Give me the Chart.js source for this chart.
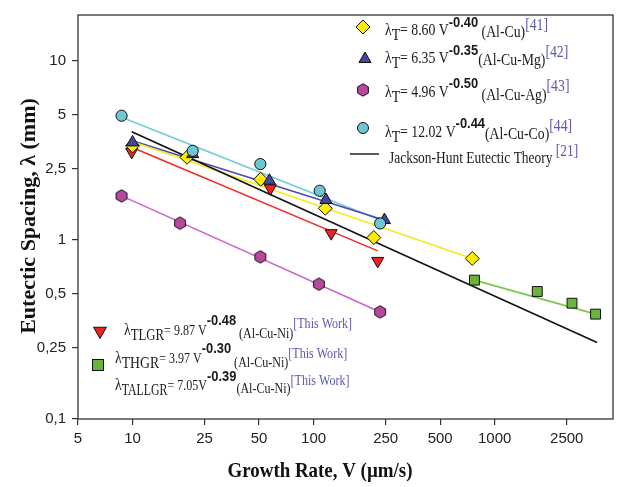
<!DOCTYPE html>
<html><head><meta charset="utf-8">
<script src="https://cdn.jsdelivr.net/npm/chart.js@4/dist/chart.umd.min.js"></script>
<style>html,body{margin:0;padding:0;background:#fff}</style>
</head><body>
<canvas id="c" width="630" height="487" style="width:630px;height:487px;display:block"></canvas>
<script>
// ---- axis ticks ----
const xTicks = [5, 10, 25, 50, 100, 250, 500, 1000, 2500];
const yTicks = [0.1, 0.25, 0.5, 1, 2.5, 5, 10];
const yTickLabels = ['0,1', '0,25', '0,5', '1', '2,5', '5', '10'];

// ---- measured points (V in µm/s, lambda in mm) ----
const alCuV   = [10, 20, 51, 116, 215, 752];
const alCuL   = [3.35, 2.89, 2.18, 1.50, 1.03, 0.787];
const alCuMgV = [10, 21.5, 57, 117, 246];
const alCuMgL = [3.50, 3.01, 2.14, 1.67, 1.29];
const alCuAgV = [8.7, 18.3, 50.8, 107, 233];
const alCuAgL = [1.76, 1.24, 0.804, 0.566, 0.396];
const alCuCoV = [8.7, 21.5, 50.8, 108, 233];
const alCuCoL = [4.93, 3.14, 2.65, 1.88, 1.235];
const tlgrV   = [9.9, 57.7, 125, 226];
const tlgrL   = [3.10, 1.94, 1.09, 0.763];
const thgrV   = [773, 1718, 2672, 3606];
const thgrL   = [0.596, 0.515, 0.443, 0.385];

// ---- fit lines (end points) ----
const alCuFitV   = [10, 752];   const alCuFitL   = [3.53, 0.787];
const alCuMgFitV = [10, 240];   const alCuMgFitL = [3.57, 1.30];
const alCuAgFitV = [8.7, 233];  const alCuAgFitL = [1.76, 0.396];
const alCuCoFitV = [8.7, 233];  const alCuCoFitL = [4.83, 1.29];
const tlgrFitV   = [9.9, 226];  const tlgrFitL   = [3.29, 0.868];
const thgrFitV   = [773, 3606]; const thgrFitL   = [0.596, 0.385];
const jhV        = [9.9, 3675]; const jhL        = [4.01, 0.267];

const C = {
  yellow: '#FFEE00', yellowLine: '#F7EA1C',
  blue: '#4646A0', blueLine: '#4B4BAA',
  magenta: '#B8489E', magentaLine: '#CC66CC',
  cyan: '#6DC6D0', cyanLine: '#74CADA',
  red: '#EE2222', redLine: '#F42A2A',
  green: '#6AB43E', greenLine: '#7CC84A',
  ref: '#5A5AAE'
};

function pts(xs, ys) { return xs.map((x, i) => ({x: x, y: ys[i]})); }

function makeHex(r, fill) {
  const s = Math.ceil(r * 2 + 3);
  const cv = document.createElement('canvas');
  cv.width = s; cv.height = s;
  const g = cv.getContext('2d');
  g.beginPath();
  for (let k = 0; k < 6; k++) {
    const a = -Math.PI / 2 + k * Math.PI / 3;
    const px = s / 2 + r * Math.cos(a), py = s / 2 + r * Math.sin(a);
    k ? g.lineTo(px, py) : g.moveTo(px, py);
  }
  g.closePath();
  g.fillStyle = fill; g.fill();
  g.strokeStyle = '#111'; g.lineWidth = 1; g.stroke();
  return cv;
}
const hexImg = makeHex(6.2, C.magenta);

function lineDS(xs, ys, color) {
  return {type: 'scatter', data: pts(xs, ys), showLine: true, borderColor: color, borderWidth: 1.6,
          pointRadius: 0, pointHoverRadius: 0, order: 20, fill: false};
}
function pointDS(xs, ys, style, fill, r, order, extra) {
  return Object.assign({type: 'scatter', data: pts(xs, ys), showLine: false, pointStyle: style,
          backgroundColor: fill, borderColor: '#111', borderWidth: 1, pointRadius: r, order: order}, extra || {});
}

const datasets = [
  lineDS(jhV, jhL, '#111'),
  lineDS(alCuFitV, alCuFitL, C.yellowLine),
  lineDS(alCuMgFitV, alCuMgFitL, C.blueLine),
  lineDS(alCuAgFitV, alCuAgFitL, C.magentaLine),
  lineDS(alCuCoFitV, alCuCoFitL, C.cyanLine),
  lineDS(tlgrFitV, tlgrFitL, C.redLine),
  lineDS(thgrFitV, thgrFitL, C.greenLine),
  pointDS(alCuCoV, alCuCoL, 'circle', C.cyan, 5.6, 1),
  pointDS(alCuMgV, alCuMgL, 'triangle', C.blue, 7, 2),
  pointDS(alCuV, alCuL, 'rectRot', C.yellow, 7, 3),
  pointDS(tlgrV, tlgrL, 'triangle', C.red, 7, 4, {rotation: 180}),
  pointDS(alCuAgV, alCuAgL, hexImg, C.magenta, 6, 5),
  pointDS(thgrV, thgrL, 'rect', C.green, 7, 6)
];

// draws a sequence of text pieces, horizontally compressed by sx
function runs(ctx, x, list, sx) {
  for (const r of list) {
    ctx.font = r.f;
    ctx.fillStyle = r.c || '#1a1a1a';
    const k = r.sx || sx || 1;
    x += (r.dx || 0);
    ctx.save();
    ctx.translate(x, r.y); ctx.scale(k, 1);
    ctx.fillText(r.t, 0, 0);
    ctx.restore();
    x += ctx.measureText(r.t).width * k;
  }
  return x;
}

function mDiamond(ctx, x, y, r, fill) { ctx.beginPath(); ctx.moveTo(x, y - r); ctx.lineTo(x + r, y); ctx.lineTo(x, y + r); ctx.lineTo(x - r, y); ctx.closePath(); ctx.fillStyle = fill; ctx.fill(); ctx.stroke(); }
function mTri(ctx, x, y, r, fill, down) { const s = down ? -1 : 1; ctx.beginPath(); ctx.moveTo(x, y - s * r); ctx.lineTo(x + r * 0.866, y + s * r * 0.5); ctx.lineTo(x - r * 0.866, y + s * r * 0.5); ctx.closePath(); ctx.fillStyle = fill; ctx.fill(); ctx.stroke(); }
function mCircle(ctx, x, y, r, fill) { ctx.beginPath(); ctx.arc(x, y, r, 0, Math.PI * 2); ctx.fillStyle = fill; ctx.fill(); ctx.stroke(); }
function mSquare(ctx, x, y, h, fill) { ctx.fillStyle = fill; ctx.fillRect(x - h, y - h, 2 * h, 2 * h); ctx.strokeRect(x - h, y - h, 2 * h, 2 * h); }

const SER = '16px "Liberation Serif"';
const SER14 = '14px "Liberation Serif"';
const SUP = 'bold 15px "Liberation Sans"';

const deco = {
  id: 'deco',
  afterDraw(chart) {
    const ctx = chart.ctx, a = chart.chartArea;
    ctx.save();
    ctx.strokeStyle = '#333'; ctx.lineWidth = 1.3;
    ctx.strokeRect(a.left, a.top, a.right - a.left, a.bottom - a.top);

    // axis titles
    ctx.fillStyle = '#111';
    ctx.font = 'bold 22px "Liberation Serif"';
    ctx.textAlign = 'center'; ctx.textBaseline = 'alphabetic';
    ctx.save();
    ctx.translate(320, 477); ctx.scale(0.86, 1);
    ctx.fillText('Growth Rate, V (\u00b5m/s)', 0, 0);
    ctx.restore();
    ctx.save();
    ctx.translate(35, 216); ctx.rotate(-Math.PI / 2);
    ctx.fillText('Eutectic Spacing, \u03bb (mm)', 0, 0);
    ctx.restore();
    ctx.textAlign = 'left';

    // legend markers
    ctx.strokeStyle = '#111'; ctx.lineWidth = 1;
    mDiamond(ctx, 363, 27, 7, C.yellow);
    mTri(ctx, 365, 59, 7, C.blue, false);
    ctx.drawImage(hexImg, 363 - hexImg.width / 2, 90 - hexImg.height / 2);
    mCircle(ctx, 363, 128, 5.5, C.cyan);
    ctx.strokeStyle = '#333'; ctx.lineWidth = 1.6;
    ctx.beginPath(); ctx.moveTo(350, 154); ctx.lineTo(379, 154); ctx.stroke();
    ctx.strokeStyle = '#111'; ctx.lineWidth = 1;
    mTri(ctx, 100, 331, 7.5, C.red, true);
    mSquare(ctx, 98, 365, 5.5, C.green);

    const S = 0.86;
    // top-right legend texts
    runs(ctx, 385, [{t:'\u03bb', f:SER, y:35}, {t:'T', f:SER, y:40}, {t:'= 8.60 V', f:SER, y:35},
      {t:'-0.40', f:SUP, y:27}, {t:' (Al-Cu)', f:SER, y:37}, {t:'[41]', f:SER, y:30, c:C.ref}], S);
    runs(ctx, 385, [{t:'\u03bb', f:SER, y:63}, {t:'T', f:SER, y:68}, {t:'= 6.35 V', f:SER, y:63},
      {t:'-0.35', f:SUP, y:55}, {t:'(Al-Cu-Mg)', f:SER, y:65}, {t:'[42]', f:SER, y:57, c:C.ref}], S);
    runs(ctx, 385, [{t:'\u03bb', f:SER, y:97}, {t:'T', f:SER, y:102}, {t:'= 4.96 V', f:SER, y:97},
      {t:'-0.50', f:SUP, y:88}, {t:' (Al-Cu-Ag)', f:SER, y:100}, {t:'[43]', f:SER, y:91, c:C.ref}], S);
    runs(ctx, 385, [{t:'\u03bb', f:SER, y:137}, {t:'T', f:SER, y:142}, {t:'= 12.02 V', f:SER, y:137},
      {t:'-0.44', f:SUP, y:128}, {t:'(Al-Cu-Co)', f:SER, y:139}, {t:'[44]', f:SER, y:131, c:C.ref}], S);
    runs(ctx, 389, [{t:'Jackson-Hunt Eutectic Theory', f:SER, y:163}, {t:' [21]', f:SER, y:156, c:C.ref}], 0.84);

    // bottom-left legend texts
    runs(ctx, 124, [{t:'\u03bb', f:SER, y:335}, {t:'TLGR', f:SER, y:340, sx:0.8}, {t:'= 9.87 V', f:SER14, y:335},
      {t:'-0.48', f:SUP, y:325}, {t:' (Al-Cu-Ni)', f:SER14, y:338}, {t:'[This Work]', f:SER14, y:328, c:C.ref}], S);
    runs(ctx, 115, [{t:'\u03bb', f:SER, y:363}, {t:'THGR', f:SER, y:368}, {t:'= 3.97 V', f:SER14, y:363},
      {t:'-0.30', f:SUP, y:353}, {t:' (Al-Cu-Ni)', f:SER14, y:367}, {t:'[This Work]', f:SER14, y:358, c:C.ref}], S);
    runs(ctx, 115, [{t:'\u03bb', f:SER, y:390}, {t:'TALLGR', f:SER, y:395, sx:0.74}, {t:'= 7.05V', f:SER14, y:390},
      {t:'-0.39', f:SUP, y:381}, {t:'(Al-Cu-Ni)', f:SER14, y:393}, {t:'[This Work]', f:SER14, y:385, c:C.ref}], S);
    ctx.restore();
  }
};

new Chart(document.getElementById('c'), {
  type: 'scatter',
  data: {datasets: datasets},
  options: {
    responsive: false, animation: false,
    events: [],
    layout: {padding: {left: 0, right: 17, top: 15, bottom: 0}},
    plugins: {legend: {display: false}, tooltip: {enabled: false}},
    scales: {
      x: {
        type: 'logarithmic', min: 5, max: 4500,
        afterBuildTicks: s => { s.ticks = xTicks.map(v => ({value: v})); },
        afterFit: s => { s.height = 68; },
        ticks: {autoSkip: false, maxRotation: 0, padding: 5, color: '#222',
                font: {family: 'Liberation Sans', size: 15},
                callback: (v) => String(v)},
        grid: {drawOnChartArea: false, drawTicks: true, tickLength: 6, color: '#333', lineWidth: 1.2},
        border: {display: false}
      },
      y: {
        type: 'logarithmic', min: 0.1, max: 18,
        afterBuildTicks: s => { s.ticks = yTicks.map(v => ({value: v})); },
        afterFit: s => { s.width = 78; },
        ticks: {autoSkip: false, padding: 6, color: '#222',
                font: {family: 'Liberation Sans', size: 15},
                callback: (v) => { const i = yTicks.indexOf(v); return i >= 0 ? yTickLabels[i] : ''; }},
        grid: {drawOnChartArea: false, drawTicks: true, tickLength: 6, color: '#333', lineWidth: 1.2},
        border: {display: false}
      }
    }
  },
  plugins: [deco]
});
</script>
</body></html>
